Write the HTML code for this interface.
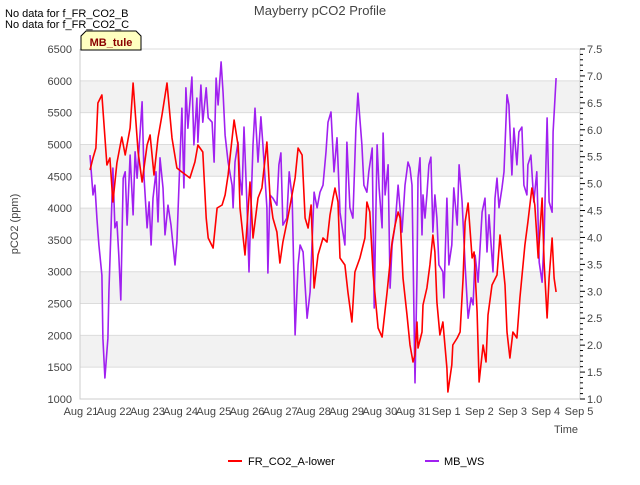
<!DOCTYPE html>
<html><head><meta charset="utf-8"><style>
body{margin:0;background:#fff;font-family:"Liberation Sans",sans-serif}
svg text{font-family:"Liberation Sans",sans-serif}
</style></head><body>
<svg id="chart" width="640" height="480" viewBox="0 0 640 480">
<rect x="0" y="0" width="640" height="480" fill="#fff"/>
<g id="bands"></g><g id="grid"></g><g id="axes"></g><g id="series"></g>
<text x="320" y="15" text-anchor="middle" font-size="13" fill="#444">Mayberry pCO2 Profile</text>
<text x="5" y="17" font-size="11" fill="#000">No data for f_FR_CO2_B</text>
<text x="5" y="28" font-size="11" fill="#000">No data for f_FR_CO2_C</text>
<path d="M81,50 L81,36 L86,31 L136,31 L141,36 L141,50 Z" fill="#ffffc0" stroke="#000" stroke-width="1"/>
<text x="111" y="46" text-anchor="middle" font-size="11" font-weight="bold" fill="#8b0000">MB_tule</text>
<text transform="translate(18,224) rotate(-90)" text-anchor="middle" font-size="11" fill="#444">pCO2 (ppm)</text>
<text x="578" y="433" text-anchor="end" font-size="11" fill="#444">Time</text>
<g>
<line x1="228" y1="461" x2="242" y2="461" stroke="#ff0000" stroke-width="2"/>
<text x="248" y="465" font-size="11" fill="#000">FR_CO2_A-lower</text>
<line x1="425" y1="461" x2="439" y2="461" stroke="#a020f0" stroke-width="2"/>
<text x="444" y="465" font-size="11" fill="#000">MB_WS</text>
</g>
</svg>
<script>
const xTickLabels=["Aug 21","Aug 22","Aug 23","Aug 24","Aug 25","Aug 26","Aug 27","Aug 28","Aug 29","Aug 30","Aug 31","Sep 1","Sep 2","Sep 3","Sep 4","Sep 5"];
const leftTicks=[1000,1500,2000,2500,3000,3500,4000,4500,5000,5500,6000,6500];
const rightTicks=[1.0,1.5,2.0,2.5,3.0,3.5,4.0,4.5,5.0,5.5,6.0,6.5,7.0,7.5];
const co2Days=[0.27,0.36,0.45,0.51,0.63,0.78,0.87,0.96,1.08,1.23,1.33,1.48,1.57,1.72,1.84,1.99,2.08,2.20,2.32,2.44,2.59,2.74,2.89,3.04,3.16,3.28,3.43,3.52,3.67,3.77,3.83,3.98,4.10,4.25,4.34,4.43,4.61,4.73,4.79,4.94,5.09,5.18,5.33,5.45,5.60,5.69,5.78,5.90,5.99,6.08,6.23,6.45,6.54,6.66,6.75,6.84,6.93,7.02,7.14,7.29,7.41,7.50,7.59,7.65,7.74,7.80,7.95,8.04,8.16,8.25,8.40,8.55,8.61,8.70,8.80,8.95,9.07,9.22,9.37,9.46,9.55,9.61,9.70,9.82,9.91,10.00,10.06,10.12,10.15,10.27,10.30,10.42,10.51,10.60,10.66,10.72,10.81,10.90,11.02,11.05,11.17,11.20,11.33,11.42,11.51,11.57,11.66,11.78,11.84,11.93,11.99,12.11,12.20,12.26,12.38,12.53,12.62,12.68,12.77,12.83,12.92,13.01,13.13,13.22,13.37,13.46,13.58,13.67,13.77,13.89,13.95,14.04,14.10,14.19,14.25,14.31];
const co2Values=[4599,4788,4944,5651,5777,4677,4787,4096,4709,5117,4834,5259,5966,4881,4410,4991,5149,4520,5101,5463,5966,5101,4630,4567,4520,4473,4724,4991,4881,3844,3530,3373,4001,4049,4206,4520,5384,4991,4001,3263,4410,3530,4159,4316,5039,4206,3844,3624,3137,3467,3844,4473,4944,4834,3844,3687,4049,2744,3263,3530,3467,3891,4159,4316,4096,3216,3106,2681,2210,2996,3216,3530,4096,3939,2949,2116,1974,2681,3467,3734,3939,3844,2901,2320,1849,1581,1691,2210,1801,2053,2477,2744,3106,3577,3310,2524,2006,2210,1487,1110,1534,1849,1959,2053,2901,3781,4080,3216,3310,2367,1267,1849,1581,2320,2791,2949,3577,3263,2791,2053,1644,2053,1959,2587,3420,3781,4316,4049,3216,4159,3153,2273,2901,3530,2901,2681];
const wsDays=[0.27,0.36,0.42,0.48,0.51,0.54,0.63,0.66,0.72,0.81,0.84,0.90,0.96,1.02,1.08,1.14,1.20,1.27,1.33,1.39,1.48,1.57,1.63,1.69,1.84,1.90,1.99,2.05,2.11,2.17,2.26,2.32,2.38,2.47,2.53,2.62,2.71,2.77,2.83,2.89,2.95,3.04,3.10,3.16,3.22,3.34,3.40,3.49,3.52,3.61,3.67,3.77,3.83,3.95,4.01,4.07,4.13,4.22,4.28,4.34,4.43,4.55,4.58,4.64,4.73,4.79,4.85,4.91,5.00,5.06,5.09,5.18,5.24,5.33,5.42,5.48,5.60,5.63,5.69,5.78,5.90,5.96,6.02,6.08,6.20,6.27,6.36,6.45,6.54,6.60,6.69,6.81,6.90,7.02,7.11,7.20,7.29,7.38,7.44,7.53,7.62,7.71,7.80,7.89,7.95,8.01,8.10,8.19,8.28,8.34,8.46,8.52,8.61,8.67,8.77,8.83,8.92,8.98,9.07,9.10,9.16,9.25,9.31,9.37,9.46,9.55,9.67,9.76,9.85,9.91,9.97,10.06,10.12,10.15,10.21,10.27,10.30,10.36,10.42,10.48,10.54,10.60,10.66,10.72,10.78,10.90,10.93,11.02,11.08,11.17,11.23,11.33,11.39,11.48,11.57,11.66,11.75,11.81,11.87,11.96,12.08,12.17,12.23,12.29,12.41,12.47,12.53,12.59,12.68,12.74,12.83,12.89,12.98,13.04,13.13,13.19,13.28,13.34,13.43,13.46,13.55,13.64,13.73,13.80,13.89,13.95,14.04,14.10,14.19,14.22,14.31];
const wsValues=[5.53,4.79,4.97,4.36,4.10,3.86,3.30,2.13,1.39,2.13,2.99,4.10,5.29,4.18,4.29,3.67,2.84,5.10,5.22,4.23,5.53,4.42,5.59,5.10,6.52,5.10,4.18,4.66,3.86,4.73,5.22,4.29,5.48,4.92,4.05,4.60,4.23,3.86,3.49,3.92,4.92,6.40,4.92,6.78,6.03,6.98,5.72,6.59,5.77,6.83,6.14,6.78,6.22,6.14,5.40,6.96,6.46,7.26,6.68,5.90,5.40,4.97,4.55,5.40,5.77,5.10,4.79,6.05,4.60,3.36,3.99,5.72,6.40,5.40,6.24,5.72,4.55,3.34,4.79,4.73,4.60,5.35,5.57,4.23,4.36,5.22,4.73,2.19,3.49,3.86,3.73,2.50,2.99,4.84,4.55,4.84,4.97,5.59,6.14,6.33,5.22,5.85,4.47,4.10,3.86,5.77,4.55,4.36,6.03,6.68,5.72,4.97,4.84,5.22,5.66,2.69,5.72,4.92,4.18,5.94,4.79,5.35,3.06,3.86,4.23,4.97,4.10,4.97,5.40,5.29,4.97,1.30,3.30,5.10,5.48,4.05,4.79,4.36,4.79,5.35,5.49,4.10,4.79,4.36,3.49,3.36,2.88,4.73,3.49,3.86,4.92,4.23,5.35,4.66,3.49,2.50,2.88,2.75,3.67,3.17,4.47,4.73,3.73,4.42,3.36,4.73,5.10,4.55,4.92,5.22,6.65,6.46,5.16,6.03,5.35,5.96,6.05,4.97,4.79,5.35,5.53,4.66,5.22,3.54,3.17,3.99,6.22,4.66,4.47,5.96,6.96];

const NS="http://www.w3.org/2000/svg";
const PL=80,PR=580,PT=49,PB=399;
const xs=d=>81+d*33.2;
const yl=v=>PB-(v-1000)/5500*(PB-PT);
const yr=v=>PB-(v-1)/6.5*(PB-PT);
function mk(tag,attrs,parent){const e=document.createElementNS(NS,tag);for(const k in attrs)e.setAttribute(k,attrs[k]);parent.appendChild(e);return e;}
const bands=document.getElementById('bands'),grid=document.getElementById('grid'),axes=document.getElementById('axes'),series=document.getElementById('series');
for(let i=0;i<leftTicks.length-1;i++){
  if(i%2===1){
    const r=mk('rect',{x:PL,y:yl(leftTicks[i+1]),width:PR-PL,height:yl(leftTicks[i])-yl(leftTicks[i+1]),fill:'#f2f2f2'},bands);
    
    
  }
}
leftTicks.forEach(v=>{
  const l=mk('line',{x1:PL,x2:PR,y1:yl(v),y2:yl(v),stroke:'#dcdcdc','stroke-width':1},grid);
  
  
  const t=mk('text',{x:72,y:yl(v)+4,'text-anchor':'end','font-size':11,fill:'#444'},axes);
  t.textContent=v;
  
  
});
const ax=mk('path',{d:`M${PL},${PT} L${PL},${PB} L${PR},${PB} L${PR},${PT}`,fill:'none',stroke:'#ccc','stroke-width':1},axes);


xTickLabels.forEach((s,i)=>{
  const t=mk('text',{x:xs(i),y:415,'text-anchor':'middle','font-size':11,fill:'#444'},axes);
  t.textContent=s;
  
  
});
for(let k=10;k<=75;k++){
  const v=k/10,major=(k%5===0);
  const l=mk('line',{x1:PR,x2:PR+(major?5:3),y1:yr(v),y2:yr(v),stroke:'#000','stroke-width':1},axes);
  
  
}
rightTicks.forEach(v=>{
  const t=mk('text',{x:587,y:yr(v)+4,'font-size':11,fill:'#444'},axes);
  t.textContent=v.toFixed(1);
  
  
});
const ws=mk('polyline',{points:wsDays.map((d,i)=>xs(d).toFixed(1)+','+yr(wsValues[i]).toFixed(1)).join(' '),fill:'none',stroke:'#a020f0','stroke-width':1.6,'stroke-linejoin':'round'},series);


const co2=mk('polyline',{points:co2Days.map((d,i)=>xs(d).toFixed(1)+','+yl(co2Values[i]).toFixed(1)).join(' '),fill:'none',stroke:'#ff0000','stroke-width':1.6,'stroke-linejoin':'round'},series);


</script>
</body></html>
